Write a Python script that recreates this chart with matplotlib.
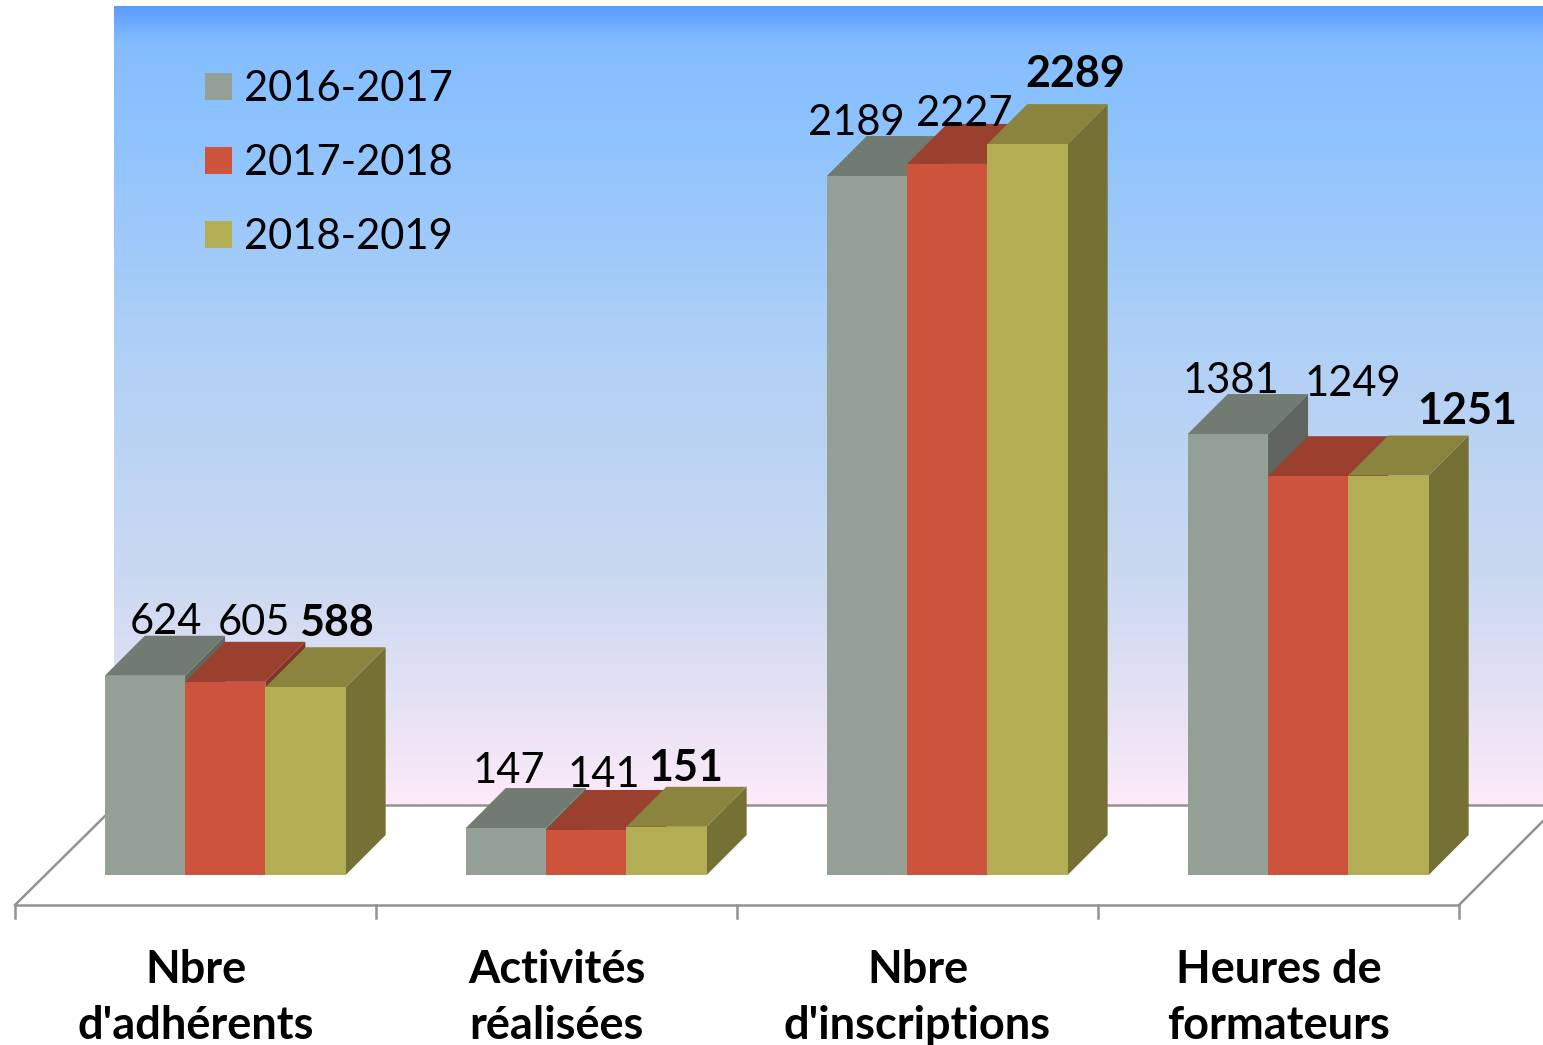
import matplotlib
matplotlib.use("Agg")
import matplotlib.pyplot as plt
import numpy as np
from matplotlib.colors import LinearSegmentedColormap
from matplotlib.patches import Polygon, Rectangle

plt.rcParams['font.family'] = ['Lato', 'DejaVu Sans']

categories = ["Nbre\nd'adhérents", "Activités\nréalisées", "Nbre\nd'inscriptions", "Heures de\nformateurs"]
seasons = ['2016-2017', '2017-2018', '2018-2019']
values_2016 = [624, 147, 2189, 1381]
values_2017 = [605, 141, 2227, 1249]
values_2018 = [588, 151, 2289, 1251]

front_colors = ['#94a096', '#cd533d', '#b3ae53']
top_colors = ['#727b72', '#9b3f2e', '#8b843e']
side_colors = ['#5e665f', '#7f3326', '#757033']

# label centres in pixels, the chart places these by hand
label_pos = [
    [(166, 622), (509, 771), (856, 123), (1231, 381)],
    [(254, 623), (604, 775), (964, 114), (1353, 384)],
    [(336, 623), (686, 768), (1075, 74), (1467, 411)],
]

W, H = 1543, 1045
GROUP_PX = 361.0
BASE_PX = 875.0
PX_PER_UNIT = 0.3193
X0_PX = 195.5
BAR_SHIFT = 29.7 / GROUP_PX


def px(x, y):
    """Pixel position to data position."""
    return (x - X0_PX) / GROUP_PX, (BASE_PX - y) / PX_PER_UNIT


fig = plt.figure(figsize=(W / 100, H / 100), dpi=100)
ax = fig.add_axes([0, 0, 1, 1])
x0, y0 = px(0, H)
x1, y1 = px(W, 0)

# back wall gradient
stops = [(0.0, '#5c9cff'), (0.045, '#84bdff'), (0.14, '#8cc2ff'), (0.45, '#b2d1f5'),
         (0.72, '#cbd9f1'), (0.88, '#e6e2f4'), (1.0, '#fdeafa')]
wall_cmap = LinearSegmentedColormap.from_list('wall', stops)
wx0, wy0 = px(114, 805)
wx1, wy1 = px(W, 6)
ax.imshow(np.linspace(0, 1, 512).reshape(-1, 1), cmap=wall_cmap, aspect='auto',
          extent=(wx0, wx1, wy0, wy1), origin='upper', zorder=0)

ax.set_xlim(x0, x1)
ax.set_ylim(y0, y1)
ax.axis('off')

# floor lines and ticks
line_color = '#939393'
lw = 1.8
ax.plot(*zip(px(15, 905), px(1459, 905)), color=line_color, lw=lw, zorder=1)
ax.plot(*zip(px(15, 905), px(106, 815)), color=line_color, lw=lw, zorder=1)
ax.plot(*zip(px(1459, 905), px(W, 821)), color=line_color, lw=lw, zorder=1)
ax.plot(*zip(px(114, 805), px(W, 805)), color=line_color, lw=lw, zorder=1)
for i in range(len(categories) + 1):
    tx = 15 + i * GROUP_PX
    ax.plot(*zip(px(tx, 905), px(tx, 918)), color=line_color, lw=lw, zorder=1)

# bars, left to right so each one overlaps the previous
bar_w = 80.3 / GROUP_PX
dx = 40 / GROUP_PX
dy = 40 / PX_PER_UNIT
series = [values_2016, values_2017, values_2018]
z = 2
for g in range(len(categories)):
    for s, vals in enumerate(series):
        left = g + BAR_SHIFT + (s - 1.5) * bar_w
        right = left + bar_w
        v = vals[g]
        ax.add_patch(Polygon([(right, 0), (right + dx, dy), (right + dx, v + dy), (right, v)],
                             facecolor=side_colors[s], edgecolor='none', zorder=z))
        ax.add_patch(Polygon([(left, v), (left + dx, v + dy), (right + dx, v + dy), (right, v)],
                             facecolor=top_colors[s], edgecolor='none', zorder=z + 0.1))
        ax.bar(left, v, width=bar_w, align='edge', color=front_colors[s], zorder=z + 0.2)
        z += 1

# value labels, last season in bold
for s, vals in enumerate(series):
    for g, v in enumerate(vals):
        lx, ly = px(*label_pos[s][g])
        ax.text(lx, ly, str(v), ha='center', va='center', fontsize=31 if s == 2 else 30,
                fontweight='bold' if s == 2 else 'normal', color='black', zorder=50)

# category labels
for g, name in enumerate(categories):
    lx, ly = px(X0_PX + g * GROUP_PX, 998)
    ax.text(lx, ly, name, ha='center', va='center', fontsize=32.5, fontweight='bold',
            linespacing=1.44, color='black', zorder=50)

# legend
for s, season in enumerate(seasons):
    sx, sy = px(205, 100 + s * 74)
    ax.add_patch(Rectangle((sx, sy), 27 / GROUP_PX, 27 / PX_PER_UNIT,
                           facecolor=front_colors[s], edgecolor='none', zorder=50))
    tx, ty = px(244, 89 + s * 74)
    ax.text(tx, ty, season, ha='left', va='center', fontsize=30, color='black', zorder=50)

fig.savefig('out.png', dpi=100)
